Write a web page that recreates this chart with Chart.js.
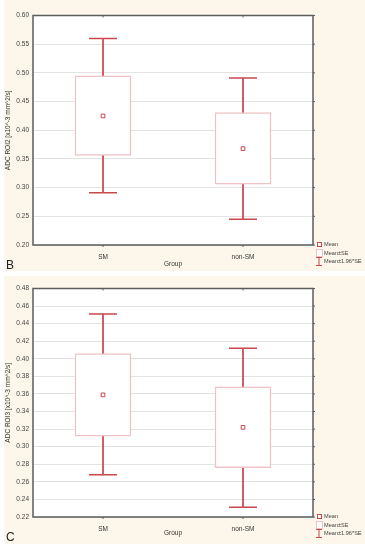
<!DOCTYPE html>
<html>
<head>
<meta charset="utf-8">
<script src="https://cdn.jsdelivr.net/npm/chart.js@4.4.1/dist/chart.umd.min.js"></script>
<style>
  body { margin: 0; width: 365px; height: 550px; background: #fff; position: relative; overflow: hidden;
         font-family: "Liberation Sans", Arial, sans-serif; }
  canvas { position: absolute; left: 0; }
  .letter { position: absolute; left: 6px; font-size: 12px; color: #222; line-height: 12px; }
  .lg { position: absolute; left: 315px; font-size: 5.6px; color: #444; line-height: 8px; white-space: nowrap; }
  .lg div { height: 8.5px; display: flex; align-items: center; }
  .ic { width: 8px; display: inline-flex; justify-content: center; align-items: center; margin-right: 1px; }
</style>
</head>
<body>
<canvas id="roi2" width="365" height="271" style="top:0"></canvas>
<canvas id="roi3" width="365" height="272" style="top:273px"></canvas>

<div class="letter" style="top:259px">B</div>
<div class="letter" style="top:531px">C</div>

<div class="lg" style="top:240px">
  <div><span class="ic"><svg width="5" height="5"><rect x="0.5" y="0.5" width="4" height="4" fill="#fff" stroke="#c9474d"/></svg></span>Mean</div>
  <div><span class="ic"><svg width="7" height="8"><rect x="0.5" y="0.5" width="6" height="7" fill="#fff" stroke="#efc3c5"/></svg></span>Mean±SE</div>
  <div><span class="ic"><svg width="8" height="9"><path d="M1 0.5H7M4 0.5V8.5M1 8.5H7" stroke="#c9474d" fill="none"/></svg></span>Mean±1.96*SE</div>
</div>
<div class="lg" style="top:512px">
  <div><span class="ic"><svg width="5" height="5"><rect x="0.5" y="0.5" width="4" height="4" fill="#fff" stroke="#c9474d"/></svg></span>Mean</div>
  <div><span class="ic"><svg width="7" height="8"><rect x="0.5" y="0.5" width="6" height="7" fill="#fff" stroke="#efc3c5"/></svg></span>Mean±SE</div>
  <div><span class="ic"><svg width="8" height="9"><path d="M1 0.5H7M4 0.5V8.5M1 8.5H7" stroke="#c9474d" fill="none"/></svg></span>Mean±1.96*SE</div>
</div>

<script>
// groups on the x axis
const groups = ['SM', 'non-SM'];

// panel B : ADC ROI2
const roi2Mean   = [0.425, 0.368];
const roi2SeLow  = [0.356, 0.306];
const roi2SeHigh = [0.495, 0.431];
const roi2CiLow  = [0.291, 0.245];
const roi2CiHigh = [0.560, 0.491];
const roi2Axis   = { min: 0.20, max: 0.60, step: 0.05 };

// panel C : ADC ROI3
const roi3Mean   = [0.359, 0.322];
const roi3SeLow  = [0.312, 0.276];
const roi3SeHigh = [0.406, 0.368];
const roi3CiLow  = [0.268, 0.231];
const roi3CiHigh = [0.451, 0.412];
const roi3Axis   = { min: 0.22, max: 0.48, step: 0.02 };

const RED = '#c9474d';
const PINK = '#efc3c5';
const CREAM = '#fcf7ea';
const smallFont = { family: '"Liberation Sans", Arial, sans-serif', size: 6.5 };

// cream panel, white plot area, dark frame + little tick marks
const panelBg = {
  id: 'panelBg',
  beforeDraw(chart, args, opts) {
    const { ctx, chartArea: a } = chart;
    ctx.save();
    ctx.fillStyle = CREAM;
    ctx.fillRect(opts.x, opts.y, chart.width - opts.x, opts.h);
    ctx.fillStyle = '#fff';
    ctx.fillRect(a.left, a.top, a.right - a.left, a.bottom - a.top);
    ctx.restore();
  },
  afterDraw(chart) {
    const { ctx, chartArea: a, scales } = chart;
    ctx.save();
    ctx.strokeStyle = '#5c5c5c';
    ctx.lineWidth = 1.5;
    ctx.strokeRect(a.left, a.top, a.right - a.left, a.bottom - a.top);
    ctx.lineWidth = 1;
    ctx.beginPath();
    scales.y.ticks.forEach((t, i) => {
      const y = scales.y.getPixelForTick(i);
      ctx.moveTo(a.right, y); ctx.lineTo(a.right + 2, y);
    });
    groups.forEach((g, i) => {
      const x = scales.x.getPixelForValue(i);
      ctx.moveTo(x, a.top); ctx.lineTo(x, a.top + 2);
      ctx.moveTo(x, a.bottom); ctx.lineTo(x, a.bottom + 2);
    });
    ctx.stroke();
    ctx.restore();
  }
};

function pairs(lo, hi) {
  return lo.map((v, i) => [v, hi[i]]);
}

function makeChart(id, d, opt) {
  return new Chart(document.getElementById(id), {
    type: 'bar',
    data: {
      labels: groups,
      datasets: [
        { type: 'line', data: d.mean, showLine: false, order: 0,
          pointStyle: 'rect', pointRadius: 2.6, pointBorderWidth: 1,
          pointBorderColor: RED, pointBackgroundColor: '#fff' },
        { data: pairs(d.seLow, d.seHigh), order: 1, grouped: false, barThickness: 56,
          backgroundColor: '#fff', borderColor: PINK, borderWidth: 1.5, borderSkipped: false },
        { data: pairs(d.ciLow, d.ciHigh), order: 2, grouped: false, barThickness: 1.2,
          backgroundColor: '#cc5359', borderWidth: 0 },
        { type: 'line', data: d.ciHigh, showLine: false, order: 3,
          pointStyle: 'line', pointRadius: 14, pointBorderWidth: 1.5, pointBorderColor: RED },
        { type: 'line', data: d.ciLow, showLine: false, order: 3,
          pointStyle: 'line', pointRadius: 14, pointBorderWidth: 1.5, pointBorderColor: RED }
      ]
    },
    options: {
      responsive: false,
      animation: false,
      devicePixelRatio: 1,
      layout: { padding: { top: opt.top, right: 52, bottom: 0, left: 0 } },
      plugins: {
        legend: { display: false },
        tooltip: { enabled: false },
        panelBg: { x: 4, y: opt.creamY, h: opt.creamH }
      },
      scales: {
        x: {
          offset: true,
          grid: { display: false },
          border: { display: false },
          ticks: { font: smallFont, color: '#333', padding: 0 },
          title: { display: true, text: 'Group', font: smallFont, color: '#333',
                   padding: { top: 0, bottom: opt.groupPad } },
          afterFit(s) { s.height = opt.xh; }
        },
        y: {
          min: d.axis.min,
          max: d.axis.max,
          ticks: { stepSize: d.axis.step, font: smallFont, color: '#444', padding: 4,
                   callback: v => v.toFixed(2) },
          grid: { color: '#e3e3e3', drawTicks: false },
          border: { display: false },
          title: { display: true, text: opt.title, font: smallFont, color: '#333',
                   padding: { top: 4, bottom: 0 } },
          afterFit(s) { s.width = 33; }
        }
      }
    },
    plugins: [panelBg]
  });
}

makeChart('roi2', {
  mean: roi2Mean, seLow: roi2SeLow, seHigh: roi2SeHigh,
  ciLow: roi2CiLow, ciHigh: roi2CiHigh, axis: roi2Axis
}, { title: 'ADC ROI2 [x10^-3 mm^2/s]', top: 9, xh: 26, groupPad: 3, creamY: 0, creamH: 271 });

makeChart('roi3', {
  mean: roi3Mean, seLow: roi3SeLow, seHigh: roi3SeHigh,
  ciLow: roi3CiLow, ciHigh: roi3CiHigh, axis: roi3Axis
}, { title: 'ADC ROI3 [x10^-3 mm^2/s]', top: 8, xh: 28, groupPad: 8, creamY: 3, creamH: 268 });
</script>
</body>
</html>
